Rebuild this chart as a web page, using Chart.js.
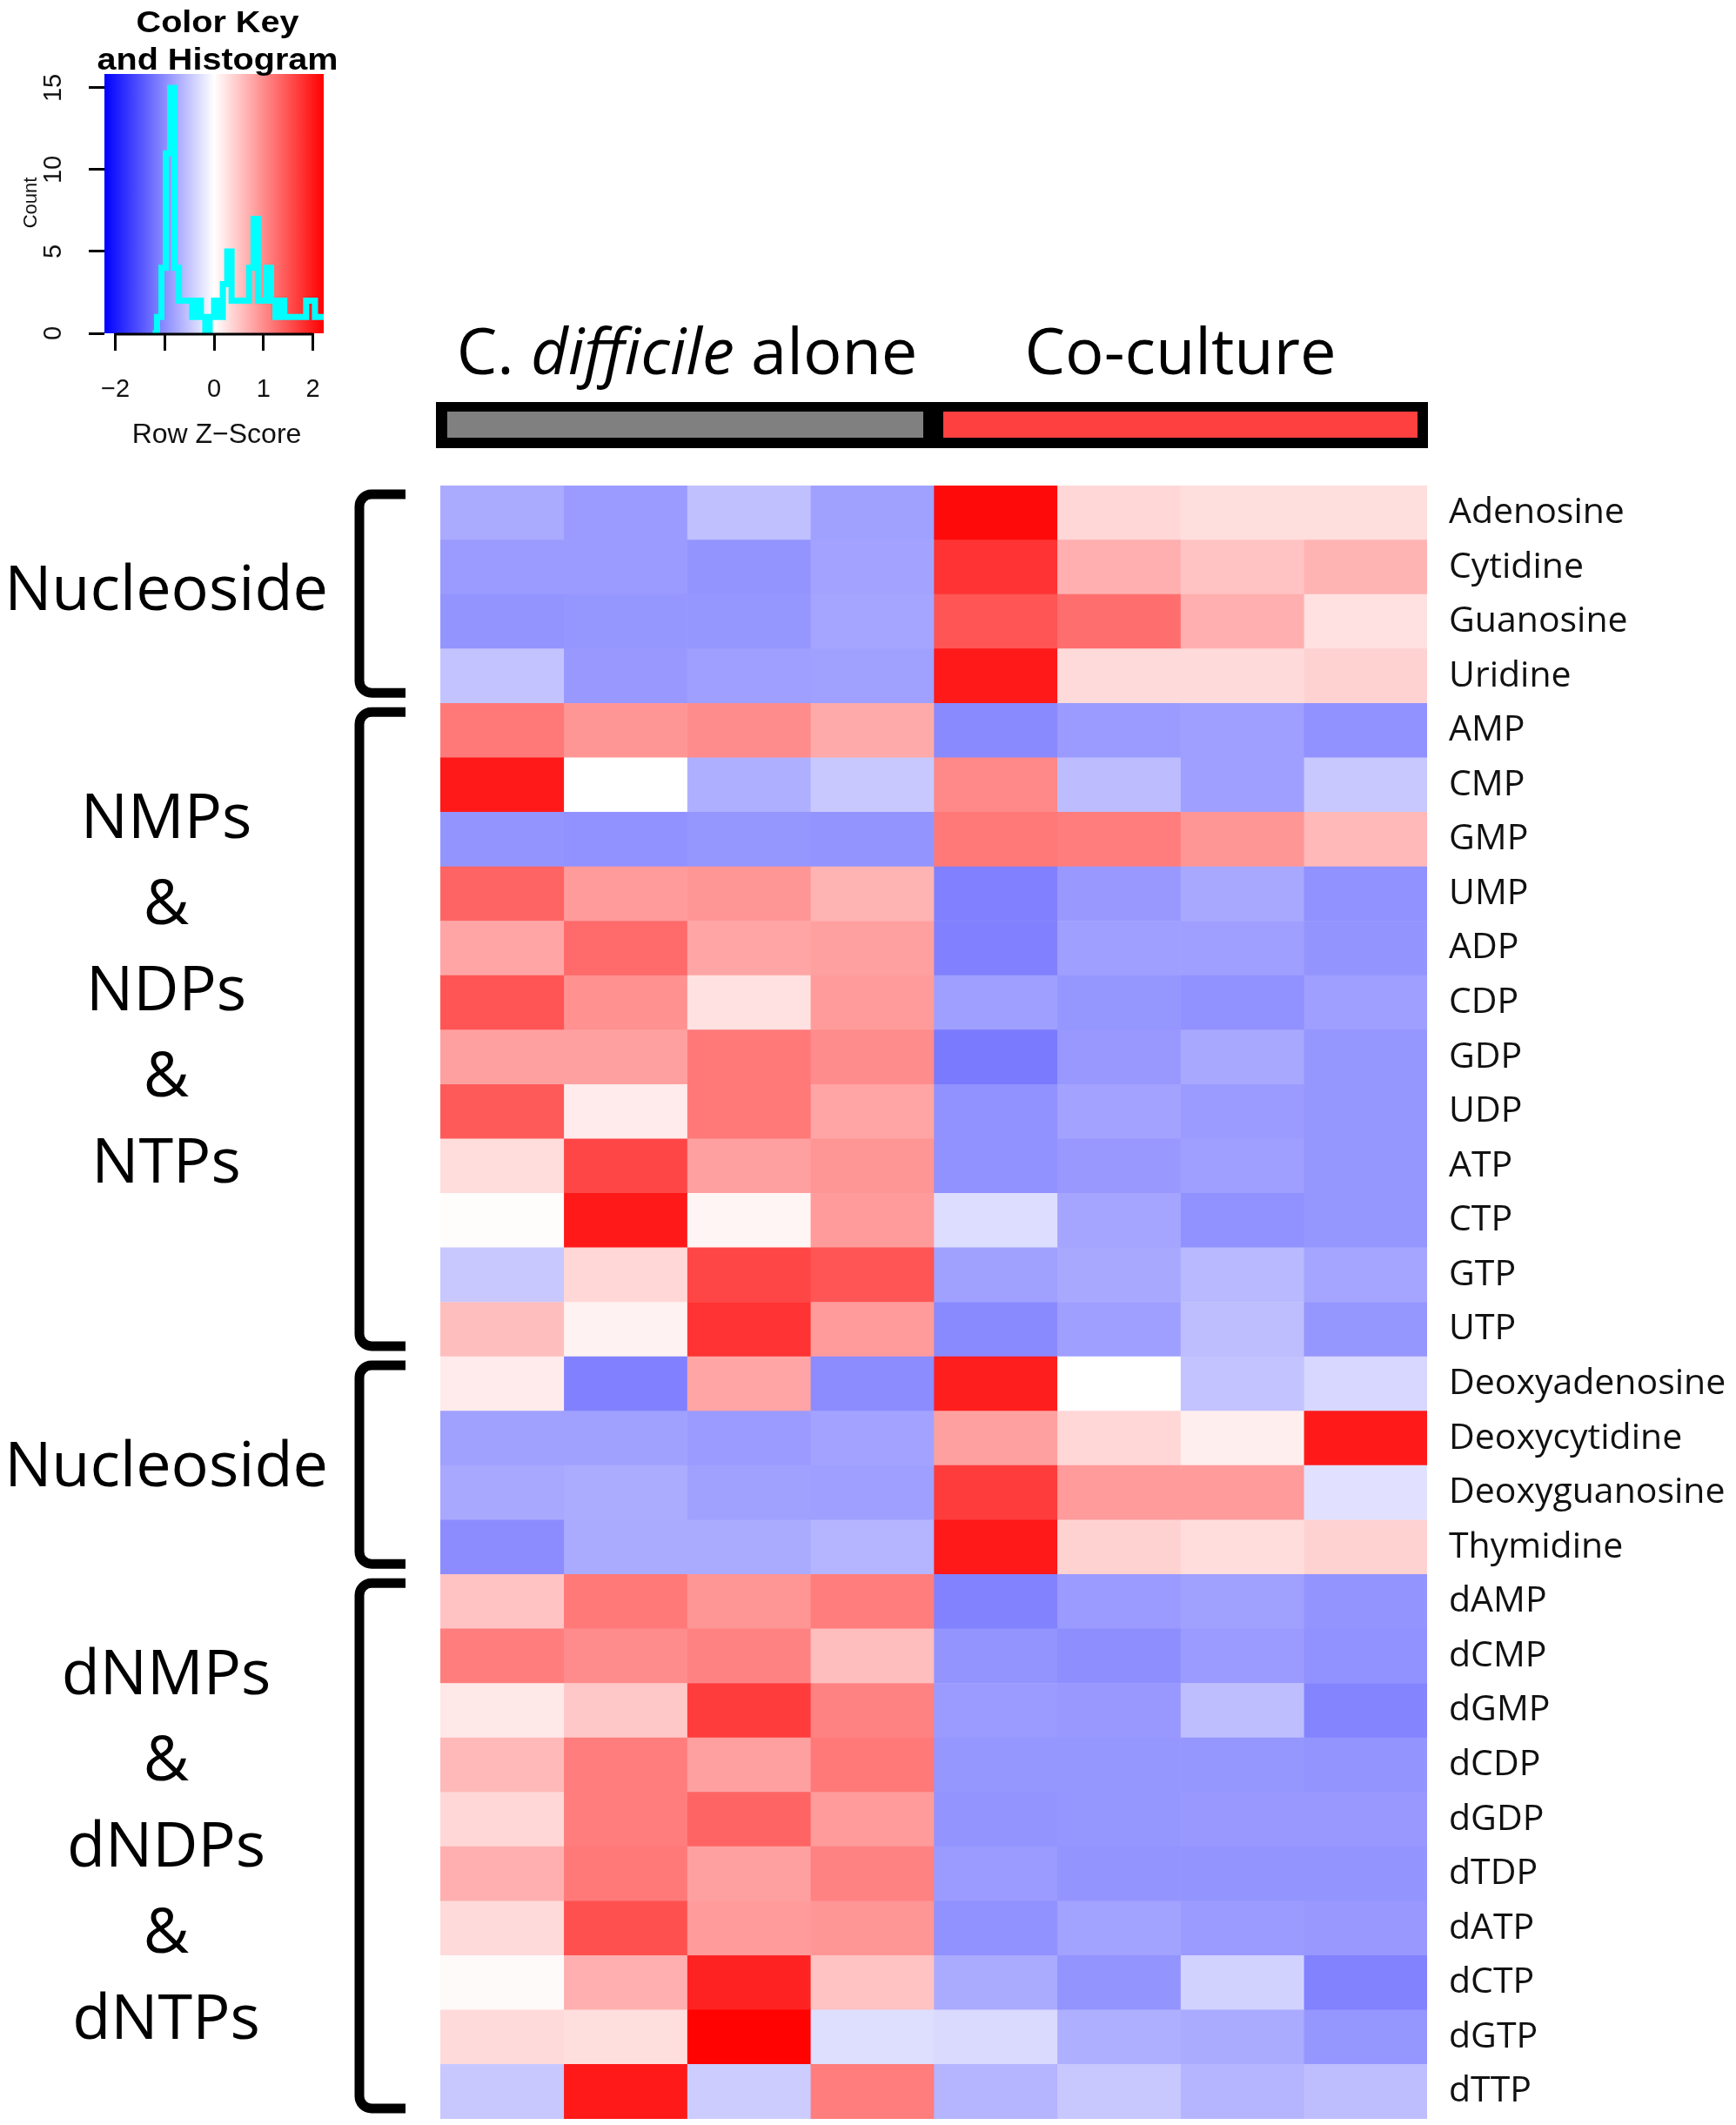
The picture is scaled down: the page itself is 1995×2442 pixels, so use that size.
<!DOCTYPE html>
<html>
<head>
<meta charset="utf-8">
<script src="https://cdn.jsdelivr.net/npm/chart.js@4.4.1/dist/chart.umd.min.js"></script>
<style>
  html, body { margin: 0; padding: 0; background: #fff; }
  #wrap { position: relative; width: 1995px; height: 2442px; overflow: hidden; }
  canvas { position: absolute; left: 0; top: 0; }
</style>
</head>
<body>
<div id="wrap">
  <canvas id="heat" width="1995" height="2442"></canvas>
  <canvas id="key" width="420" height="520"></canvas>
</div>
<script>
// rows of the heatmap, top to bottom
const metabolites = ['Adenosine', 'Cytidine', 'Guanosine', 'Uridine', 'AMP', 'CMP', 'GMP', 'UMP',
  'ADP', 'CDP', 'GDP', 'UDP', 'ATP', 'CTP', 'GTP', 'UTP', 'Deoxyadenosine', 'Deoxycytidine',
  'Deoxyguanosine', 'Thymidine', 'dAMP', 'dCMP', 'dGMP', 'dCDP', 'dGDP', 'dTDP', 'dATP', 'dCTP',
  'dGTP', 'dTTP'];
const samples = ['alone 1', 'alone 2', 'alone 3', 'alone 4', 'co 1', 'co 2', 'co 3', 'co 4'];
const conditions = ['C. difficile alone', 'Co-culture'];
const groupNames = ['Nucleoside', 'NMPs\n&\nNDPs\n&\nNTPs', 'Nucleoside', 'dNMPs\n&\ndNDPs\n&\ndNTPs'];
const groupSizes = [4, 12, 4, 10];

// row z-scores, C. difficile alone (4 replicates)
const zAlone = [
  [-0.74, -0.87, -0.55, -0.83], [-0.87, -0.87, -0.93, -0.80], [-0.93, -0.91, -0.91, -0.78], [-0.52, -0.90, -0.84, -0.83],
  [1.17, 0.91, 1.00, 0.74], [2.00, 0.00, -0.70, -0.48], [-0.93, -0.96, -0.91, -0.93], [1.35, 0.87, 0.91, 0.65],
  [0.78, 1.30, 0.78, 0.83], [1.48, 0.96, 0.26, 0.87], [0.83, 0.83, 1.17, 1.00], [1.44, 0.17, 1.17, 0.78],
  [0.30, 1.61, 0.83, 0.91], [0.03, 2.00, 0.09, 0.87], [-0.48, 0.35, 1.61, 1.48], [0.57, 0.11, 1.78, 0.87],
  [0.17, -1.10, 0.78, -1.00], [-0.83, -0.83, -0.87, -0.80], [-0.76, -0.72, -0.83, -0.84], [-1.00, -0.74, -0.74, -0.64],
  [0.52, 1.17, 0.91, 1.13], [1.13, 1.00, 1.09, 0.57], [0.20, 0.48, 1.70, 1.09], [0.61, 1.13, 0.83, 1.17],
  [0.35, 1.13, 1.35, 0.87], [0.70, 1.17, 0.83, 1.09], [0.32, 1.52, 0.87, 0.91], [0.04, 0.70, 1.92, 0.52],
  [0.32, 0.29, 2.20, -0.29], [-0.48, 2.00, -0.44, 1.13]
];
// row z-scores, co-culture (4 replicates)
const zCoculture = [
  [2.13, 0.35, 0.29, 0.29], [1.78, 0.70, 0.52, 0.65], [1.48, 1.26, 0.70, 0.26], [2.00, 0.32, 0.32, 0.39],
  [-1.02, -0.87, -0.84, -0.96], [1.04, -0.58, -0.84, -0.48], [1.17, 1.13, 0.91, 0.61], [-1.10, -0.90, -0.76, -0.96],
  [-1.10, -0.84, -0.84, -0.93], [-0.84, -0.91, -0.96, -0.84], [-1.16, -0.90, -0.76, -0.91], [-0.96, -0.80, -0.87, -0.91],
  [-0.96, -0.90, -0.84, -0.91], [-0.30, -0.78, -0.96, -0.91], [-0.83, -0.76, -0.61, -0.78], [-1.02, -0.84, -0.57, -0.91],
  [1.96, 0.00, -0.52, -0.35], [0.83, 0.35, 0.15, 2.00], [1.70, 0.87, 0.87, -0.26], [2.00, 0.39, 0.30, 0.39],
  [-1.09, -0.87, -0.83, -0.93], [-0.93, -0.98, -0.87, -0.96], [-0.87, -0.90, -0.57, -1.07], [-0.91, -0.91, -0.91, -0.93],
  [-0.93, -0.91, -0.90, -0.90], [-0.87, -0.93, -0.93, -0.93], [-0.96, -0.81, -0.87, -0.90], [-0.74, -0.93, -0.39, -1.09],
  [-0.32, -0.70, -0.74, -0.91], [-0.65, -0.48, -0.64, -0.57]
];

// colour key histogram (counts per break)
const zLimit = 2.22;
const histStart = -2.22;
const histBinWidth = 0.0888;
const histCounts = [0, 0, 0, 0, 0, 0, 0, 0, 0, 0, 0, 0,
  1, 4, 11, 15, 4, 2, 2, 2, 1, 2, 1, 0, 1, 2, 1, 3, 5, 2, 2, 2, 2, 4, 7, 2, 2, 4, 2, 1,
  2, 1, 1, 1, 1, 1, 2, 2, 1, 1];

const zAt = (row, col) => col < 4 ? zAlone[row][col] : zCoculture[row][col - 4];

// blue - white - red ramp
function zColor(z) {
  const t = Math.min(1, Math.abs(z) / zLimit);
  const v = Math.round(255 * (1 - t));
  return z < 0 ? `rgb(${v},${v},255)` : `rgb(255,${v},${v})`;
}

const textFont = '"Open Sans", "Noto Sans", sans-serif';
const keyFont = '"Liberation Sans", Arial, sans-serif';

// headers, condition bar, brackets and group names
const heatDecor = {
  id: 'heatDecor',
  afterDraw(chart) {
    const ctx = chart.ctx;
    const x = chart.scales.x, y = chart.scales.y;
    const rowH = Math.abs(y.getPixelForValue(1) - y.getPixelForValue(0));
    ctx.save();
    ctx.fillStyle = '#000';
    ctx.textBaseline = 'alphabetic';

    // condition headers
    const headerParts = [
      [{ t: 'C. ', it: false }, { t: 'difficile', it: true }, { t: ' alone', it: false }],
      [{ t: conditions[1], it: false }]
    ];
    headerParts.forEach((parts, k) => {
      const fonts = parts.map(p => (p.it ? 'italic ' : '') + '74px ' + textFont);
      let total = 0;
      parts.forEach((p, i) => { ctx.font = fonts[i]; total += ctx.measureText(p.t).width; });
      let cx = x.getPixelForValue(2 + k * 4) - total / 2;
      parts.forEach((p, i) => {
        ctx.font = fonts[i];
        ctx.textAlign = 'left';
        ctx.fillText(p.t, cx, 430);
        cx += ctx.measureText(p.t).width;
      });
    });

    // condition colour bar
    const x0 = x.getPixelForValue(0), x4 = x.getPixelForValue(4), x8 = x.getPixelForValue(8);
    ctx.fillStyle = '#000';
    ctx.fillRect(x0 - 5, 462, x8 - x0 + 6, 53);
    ctx.fillStyle = '#808080';
    ctx.fillRect(x0 + 8, 473, x4 - x0 - 20, 30);
    ctx.fillStyle = '#ff4040';
    ctx.fillRect(x4 + 11, 473, x8 - x4 - 22, 30);

    // brackets and group labels
    const labelShift = [-7, -48, -1, -2];
    let start = 0;
    groupNames.forEach((name, g) => {
      const end = start + groupSizes[g] - 1;
      const top = y.getPixelForValue(start) - rowH / 2 + 10;
      const bot = y.getPixelForValue(end) + rowH / 2 - 12;
      const bx = 413, ax = 466, r = 14;
      ctx.strokeStyle = '#000';
      ctx.lineWidth = 11;
      ctx.lineJoin = 'round';
      ctx.beginPath();
      ctx.moveTo(ax, top);
      ctx.arcTo(bx, top, bx, top + r, r);
      ctx.arcTo(bx, bot, bx + r, bot, r);
      ctx.lineTo(ax, bot);
      ctx.stroke();

      const lines = name.split('\n');
      const mid = (top + bot) / 2 + labelShift[g];
      const lh = 99;
      ctx.font = '72px ' + textFont;
      ctx.textAlign = 'center';
      ctx.fillStyle = '#000';
      lines.forEach((ln, i) => {
        const cy = mid + (i - (lines.length - 1) / 2) * lh;
        ctx.fillText(ln, 191, cy + 26);
      });
      start = end + 1;
    });
    ctx.restore();
  }
};

const heatChart = new Chart(document.getElementById('heat'), {
  type: 'bar',
  data: {
    labels: metabolites,
    datasets: samples.map((s, j) => ({
      label: s,
      data: metabolites.map(() => 1),
      backgroundColor: c => zColor(zAt(c.dataIndex, j)),
      borderWidth: 0,
      barPercentage: 1,
      categoryPercentage: 1
    }))
  },
  options: {
    indexAxis: 'y',
    responsive: false,
    animation: false,
    devicePixelRatio: 1,
    layout: { padding: { left: 506, top: 558, bottom: 7, right: 0 } },
    plugins: { legend: { display: false }, tooltip: { enabled: false } },
    scales: {
      x: { stacked: true, min: 0, max: 8, display: false },
      y: {
        stacked: true,
        position: 'right',
        grid: { display: false },
        border: { display: false },
        ticks: { color: '#111', autoSkip: false, padding: 17, font: { family: textFont, size: 41 } },
        afterFit: s => { s.width = 355; s.paddingTop = 0; s.paddingBottom = 0; }
      }
    }
  },
  plugins: [heatDecor]
});

// colour key: gradient behind, rotated labels and titles
const histPoints = histCounts.map((c, i) => ({ x: histStart + i * histBinWidth, y: c }));
histPoints.push({ x: histStart + histCounts.length * histBinWidth, y: histCounts[histCounts.length - 1] });

const keyDecor = {
  id: 'keyDecor',
  beforeDatasetsDraw(chart) {
    const { ctx, chartArea: a, scales: { x } } = chart;
    const g = ctx.createLinearGradient(x.getPixelForValue(-zLimit), 0, x.getPixelForValue(zLimit), 0);
    g.addColorStop(0, 'rgb(0,0,255)');
    g.addColorStop(0.5, 'rgb(255,255,255)');
    g.addColorStop(1, 'rgb(255,0,0)');
    ctx.save();
    ctx.fillStyle = g;
    ctx.fillRect(a.left, a.top, a.right - a.left, a.bottom - a.top);
    ctx.restore();
  },
  afterDraw(chart) {
    const { ctx, chartArea: a, scales: { x, y } } = chart;
    ctx.save();
    ctx.fillStyle = '#000';
    // title
    ctx.font = 'bold 35px ' + keyFont;
    ctx.textAlign = 'center';
    ctx.textBaseline = 'alphabetic';
    [['Color Key', 37], ['and Histogram', 80]].forEach(([t, by]) => {
      ctx.save();
      ctx.translate(250, by);
      ctx.scale(1.13, 1);
      ctx.fillText(t, 0, 0);
      ctx.restore();
    });
    // y tick labels, rotated like R
    ctx.font = '29px ' + keyFont;
    ctx.fillStyle = '#111';
    ctx.textBaseline = 'middle';
    y.ticks.forEach(t => {
      ctx.save();
      ctx.translate(62, y.getPixelForValue(t.value));
      ctx.rotate(-Math.PI / 2);
      ctx.fillText(String(t.value), 0, 0);
      ctx.restore();
    });
    ctx.font = '22px ' + keyFont;
    ctx.save();
    ctx.translate(36, 233);
    ctx.rotate(-Math.PI / 2);
    ctx.fillText('Count', 0, 0);
    ctx.restore();
    ctx.font = '32px ' + keyFont;
    ctx.fillText('Row Z\u2212Score', 249, 500);
    // x axis line from -2 to 2
    ctx.strokeStyle = '#000';
    ctx.lineWidth = 3;
    ctx.beginPath();
    ctx.moveTo(x.getPixelForValue(-2), a.bottom + 1);
    ctx.lineTo(x.getPixelForValue(2), a.bottom + 1);
    ctx.stroke();
    ctx.restore();
  }
};

const keyChart = new Chart(document.getElementById('key'), {
  type: 'line',
  data: {
    datasets: [{
      data: histPoints,
      stepped: 'before',
      borderColor: '#00ffff',
      borderWidth: 7,
      pointRadius: 0,
      fill: false,
      segment: {
        borderColor: c => (c.p0.parsed.y === 0 && c.p1.parsed.y === 0) ? 'rgba(0,0,0,0)' : '#00ffff'
      }
    }]
  },
  options: {
    responsive: false,
    animation: false,
    devicePixelRatio: 1,
    layout: { padding: { top: 85, right: 48, left: 0, bottom: 0 } },
    plugins: { legend: { display: false }, tooltip: { enabled: false } },
    scales: {
      x: {
        type: 'linear',
        min: -zLimit,
        max: zLimit,
        grid: { drawOnChartArea: false, drawTicks: true, tickLength: 20, color: '#000', lineWidth: 3 },
        border: { display: false },
        ticks: {
          stepSize: 1,
          includeBounds: false,
          maxRotation: 0,
          color: '#111',
          padding: 28,
          font: { family: keyFont, size: 29 },
          callback: v => v === -1 ? '' : (v < 0 ? '\u2212' + Math.abs(v) : String(v))
        },
        afterFit: s => { s.height = 137; }
      },
      y: {
        min: 0,
        max: 15.85,
        grid: { drawOnChartArea: false, drawTicks: true, tickLength: 18, color: '#000', lineWidth: 3 },
        border: { display: false },
        ticks: { stepSize: 5, includeBounds: false, display: false },
        afterFit: s => { s.width = 120; }
      }
    }
  },
  plugins: [keyDecor]
});
</script>
</body>
</html>
